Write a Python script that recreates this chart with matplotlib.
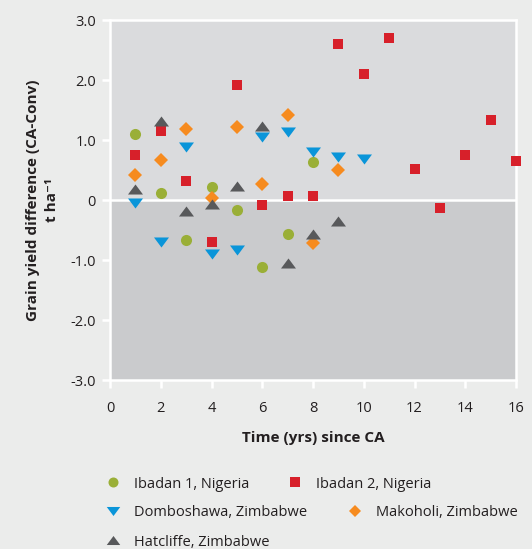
import matplotlib
matplotlib.use("Agg")
import matplotlib.pyplot as plt
from matplotlib.patches import Rectangle
from matplotlib.path import Path

plt.rcParams['font.family'] = ['Open Sans', 'DejaVu Sans']

years = list(range(1, 17))
ibadan1 = [1.1, 0.12, -0.67, 0.22, -0.17, -1.12, -0.57, 0.63]
ibadan2 = [0.75, 1.15, 0.32, -0.7, 1.92, -0.08, 0.07, 0.07, 2.6, 2.1, 2.7, 0.52, -0.13, 0.75, 1.33, 0.65]
domboshawa = [-0.05, -0.7, 0.88, -0.9, -0.83, 1.05, 1.13, 0.8, 0.72, 0.68]
makoholi = [0.42, 0.67, 1.18, 0.04, 1.22, 0.27, 1.42, -0.72, 0.5]
hatcliffe = [0.18, 1.32, -0.18, -0.07, 0.23, 1.23, -1.05, -0.57, -0.35]

tri_down = Path([(-1, 0.67), (1, 0.67), (0, -0.67), (-1, 0.67)], closed=True)
tri_up = Path([(-1, -0.67), (1, -0.67), (0, 0.67), (-1, -0.67)], closed=True)

series = [
    ("Ibadan 1, Nigeria", ibadan1, 'o', '#9aaf37', 8),
    ("Ibadan 2, Nigeria", ibadan2, 's', '#d7202a', 7.8),
    ("Domboshawa, Zimbabwe", domboshawa, tri_down, '#0a95d9', 10.8),
    ("Makoholi, Zimbabwe", makoholi, 'D', '#f68b1f', 7),
    ("Hatcliffe, Zimbabwe", hatcliffe, tri_up, '#58595b', 10.8),
]

W, H = 532, 549
fig = plt.figure(figsize=(W/100, H/100), dpi=100, facecolor='#ebeceb')
ax = fig.add_axes([110/W, (H-380)/H, 406/W, 360/H])
ax.set_facecolor('#ebeceb')
ax.set_xlim(0, 16)
ax.set_ylim(-3, 3)
ax.add_patch(Rectangle((0, 0), 16, 3, facecolor='#dadbdd', edgecolor='none', zorder=0))
ax.add_patch(Rectangle((0, -3), 16, 3, facecolor='#cacbcd', edgecolor='none', zorder=0))
ax.axhline(0, color='white', lw=1.8, zorder=1)

handles = []
for name, vals, m, c, ms in series:
    h, = ax.plot(years[:len(vals)], vals, linestyle='none', marker=m, color=c,
                 markersize=ms, markeredgewidth=0, label=name, zorder=3, clip_on=False)
    handles.append(h)

for s in ax.spines.values():
    s.set_color('white')
    s.set_linewidth(1.8)

ax.set_xticks(range(0, 17, 2))
ax.set_yticks([-3, -2, -1, 0, 1, 2, 3])
ax.set_yticklabels(['-3.0', '-2.0', '-1.0', '0', '1.0', '2.0', '3.0'])
ax.tick_params(axis='both', colors='white', width=1.8, length=6, labelcolor='#231f20',
               labelsize=10.5)
ax.tick_params(axis='x', pad=9)
ax.tick_params(axis='y', pad=4)

ax.set_xlabel('Time (yrs) since CA', fontsize=11, fontweight='bold', color='#231f20', labelpad=11)
ax.set_ylabel('Grain yield difference (CA-Conv)\nt ha⁻¹', fontsize=11, fontweight='bold',
              color='#231f20', labelpad=8, linespacing=1.5)

# legend, placed entry by entry
pos = [(106, 484), (288, 484), (106, 513), (348, 513), (106, 542)]
for h, (px, py) in zip(handles, pos):
    lg = fig.legend([h], [h.get_label()], loc='center left',
                    bbox_to_anchor=(px/W, 1 - py/H), frameon=False, fontsize=10.5,
                    handlelength=1.0, handletextpad=0.9, borderaxespad=0, borderpad=0,
                    markerscale=0.9)
    for t in lg.get_texts():
        t.set_color('#231f20')

fig.savefig('out.png', dpi=100, facecolor=fig.get_facecolor())
